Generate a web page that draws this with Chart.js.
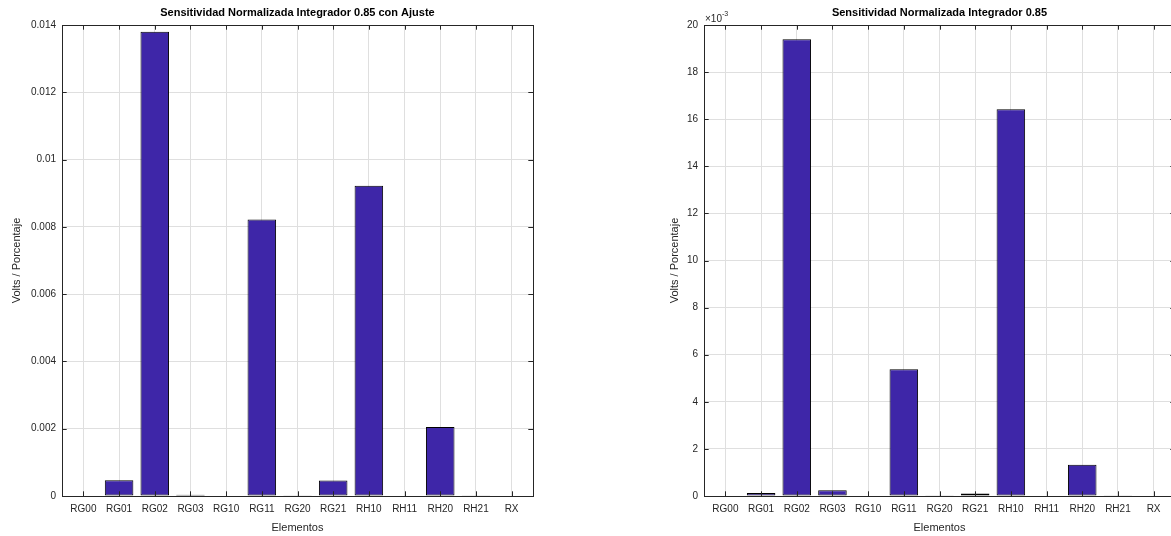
<!DOCTYPE html>
<html lang="es">
<head>
<meta charset="utf-8">
<title>Sensitividad Normalizada Integrador 0.85</title>
<script src="https://cdn.jsdelivr.net/npm/chart.js"></script>
<style>
  html, body { margin: 0; padding: 0; background: #fff; overflow: hidden; width: 1171px; height: 536px; }
  .panel { position: absolute; top: 0; }
  .panel canvas { display: block; }
  #izq { left: 0; }
  #der { left: 642px; }
</style>
</head>
<body>
<div class="panel" id="izq"><canvas id="graficoAjuste" width="560" height="536"></canvas></div>
<div class="panel" id="der"><canvas id="graficoNormal" width="560" height="536"></canvas></div>

<script>
// Elementos del eje X
const elementos = ['RG00', 'RG01', 'RG02', 'RG03', 'RG10', 'RG11', 'RG20', 'RG21', 'RH10', 'RH11', 'RH20', 'RH21', 'RX'];

// Sensitividad con ajuste (Volts / Porcentaje)
const sensAjuste = [0, 0.00047, 0.0138, 0.00004, 0, 0.00822, 0.00001, 0.00046, 0.00922, 0, 0.00205, 0.00001, 0];

// Sensitividad sin ajuste (Volts / Porcentaje)
const sensNormal = [0, 0.000125, 0.0194, 0.00024, 0, 0.00538, 0.00001, 0.00011, 0.01642, 0, 0.00133, 0.00003, 0];

const colorBarra = 'rgb(62, 38, 168)';
const colorEjes = '#262626';

Chart.defaults.font.family = "'Liberation Sans', Arial, Helvetica, sans-serif";
Chart.defaults.color = colorEjes;

// Caja y marcas hacia adentro, estilo MATLAB
const ejesMatlab = {
    id: 'ejesMatlab',
    afterDatasetsDraw(chart) {
        const { ctx, chartArea: a, scales: { x, y } } = chart;
        const largo = 4.7;
        ctx.save();
        ctx.strokeStyle = colorEjes;
        ctx.lineWidth = 1;
        ctx.beginPath();
        x.ticks.forEach(t => {
            const px = Math.round(x.getPixelForValue(t.value)) + 0.5;
            ctx.moveTo(px, a.bottom); ctx.lineTo(px, a.bottom - largo);
            ctx.moveTo(px, a.top); ctx.lineTo(px, a.top + largo);
        });
        y.ticks.forEach(t => {
            const py = Math.round(y.getPixelForValue(t.value)) + 0.5;
            ctx.moveTo(a.left, py); ctx.lineTo(a.left + largo, py);
            ctx.moveTo(a.right, py); ctx.lineTo(a.right - largo, py);
        });
        ctx.stroke();
        ctx.strokeRect(Math.round(a.left) + 0.5, Math.round(a.top) + 0.5,
            Math.round(a.right - a.left), Math.round(a.bottom - a.top));
        ctx.restore();
    }
};

// Multiplicador x10^-3 arriba del eje Y
const exponente = {
    id: 'exponente',
    afterDraw(chart) {
        if (!chart.options.plugins.exponente || !chart.options.plugins.exponente.mostrar) return;
        const { ctx, chartArea: a } = chart;
        ctx.save();
        ctx.fillStyle = colorEjes;
        ctx.textBaseline = 'alphabetic';
        ctx.font = "10px 'Liberation Sans', Arial, sans-serif";
        const base = '\u00d710';
        ctx.fillText(base, a.left + 1, a.top - 3);
        const w = ctx.measureText(base).width;
        ctx.font = "7px 'Liberation Sans', Arial, sans-serif";
        ctx.fillText('-3', a.left + 1 + w, a.top - 9);
        ctx.restore();
    }
};

function crearGrafico(id, titulo, valores, maxY, etiquetaY, padTituloY, conExponente) {
    const ctx = document.getElementById(id).getContext('2d');
    return new Chart(ctx, {
        type: 'bar',
        data: {
            datasets: [{
                data: valores.map((v, i) => ({ x: i + 1, y: v })),
                backgroundColor: colorBarra,
                borderColor: '#000',
                borderWidth: 1,
                borderSkipped: false,
                barPercentage: 0.8,
                categoryPercentage: 1
            }]
        },
        options: {
            responsive: false,
            animation: false,
            devicePixelRatio: 1,
            layout: { padding: { left: 0, right: 27, top: 0, bottom: 0 } },
            plugins: {
                legend: { display: false },
                tooltip: { enabled: false },
                title: {
                    display: true,
                    text: titulo,
                    fullSize: false,
                    color: '#000',
                    font: { size: 11, weight: 'bold' },
                    padding: { top: 6, bottom: 5.8 }
                },
                exponente: { mostrar: conExponente }
            },
            scales: {
                x: {
                    type: 'linear',
                    offset: false,
                    min: 0.4,
                    max: 13.6,
                    afterBuildTicks: s => { s.ticks = elementos.map((_, i) => ({ value: i + 1 })); },
                    afterFit: s => { s.height = 40; },
                    grid: { color: '#dfdfdf', drawTicks: false, offset: false },
                    border: { display: false },
                    ticks: {
                        autoSkip: false,
                        maxRotation: 0,
                        padding: 7,
                        font: { size: 10 },
                        callback: v => elementos[v - 1]
                    },
                    title: {
                        display: true,
                        text: 'Elementos',
                        font: { size: 11 },
                        padding: { top: 0, bottom: 1.5 }
                    }
                },
                y: {
                    min: 0,
                    max: maxY,
                    afterFit: s => { s.width = 62; },
                    grid: { color: '#dfdfdf', drawTicks: false },
                    border: { display: false },
                    ticks: {
                        stepSize: 0.002,
                        padding: 6,
                        font: { size: 10 },
                        callback: etiquetaY
                    },
                    title: {
                        display: true,
                        text: 'Volts / Porcentaje',
                        font: { size: 11 },
                        padding: { top: padTituloY, bottom: 0 }
                    }
                }
            }
        },
        plugins: [ejesMatlab, exponente]
    });
}

crearGrafico('graficoAjuste', 'Sensitividad Normalizada Integrador 0.85 con Ajuste', sensAjuste, 0.014,
    v => Number(v.toFixed(3)).toString(), 10.4, false);

crearGrafico('graficoNormal', 'Sensitividad Normalizada Integrador 0.85', sensNormal, 0.02,
    v => String(Math.round(v * 1000)), 26.4, true);
</script>
</body>
</html>
